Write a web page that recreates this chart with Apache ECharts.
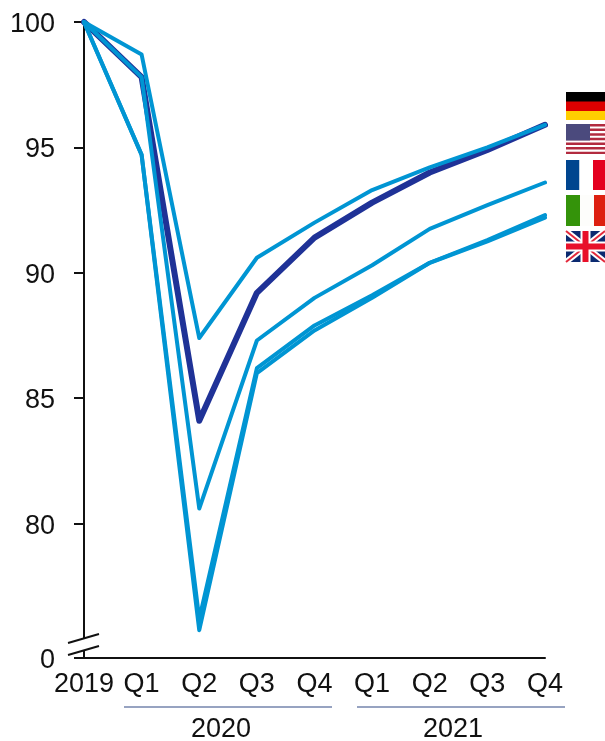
<!DOCTYPE html>
<html><head><meta charset="utf-8">
<style>html,body{margin:0;padding:0;background:#fff}#c{width:605px;height:741px}</style>
<script src="https://cdn.jsdelivr.net/npm/echarts@6/dist/echarts.min.js"></script>
</head><body><div id="c"></div>
<script>
const categories = ['2019','Q1','Q2','Q3','Q4','Q1','Q2','Q3','Q4'];
const germany = [100,97.8,84.1,89.2,91.4,92.8,94.0,94.9,95.9];
const usa     = [100,98.7,87.4,90.6,92.0,93.3,94.2,95.0,95.9];
const france  = [100,97.8,80.6,87.3,89.0,90.3,91.75,92.7,93.6];
const italy   = [100,94.7,76.2,86.2,87.9,89.1,90.4,91.3,92.3];
const uk      = [100,94.7,75.75,86.0,87.7,89.0,90.4,91.25,92.2];
const yFloor = 74.64;            // truncated axis baseline, labelled 0
const yTicks = [yFloor,80,85,90,95,100];
const yearGroups = ['2020','2021'];

const LIGHT='#0095d3', DARK='#1f3297', INK='#111';
const FONT='Liberation Sans';
const chart = echarts.init(document.getElementById('c'),null,{renderer:'canvas'});
const line=(name,data,color,w)=>({name,type:'line',data,symbol:'none',clip:false,animation:false,
  lineStyle:{color,width:w,join:'round',cap:'round'},itemStyle:{color}});

const grid={left:84,right:60,top:22,bottom:83};
const g=[];
// axis break
g.push({type:'polygon',z:20,shape:{points:[[78,640],[90,637],[90,649],[78,652]]},style:{fill:'#fff'}});
[[643,634],[655,646]].forEach(([a,b])=>g.push({type:'line',z:21,shape:{x1:68,y1:a,x2:99,y2:b},style:{stroke:INK,lineWidth:2}}));
// year groups
[[124,332,221],[357,565,453]].forEach(([x1,x2,tx],i)=>{
  g.push({type:'line',z:20,shape:{x1,y1:707,x2,y2:707},style:{stroke:'#7484ad',lineWidth:1.5}});
  g.push({type:'text',z:20,x:tx,y:730,style:{text:yearGroups[i],fill:INK,font:'27px "'+FONT+'"',align:'center',verticalAlign:'middle'}});
});
// flags
const fx=566,fw=39;
const rect=(x,y,w,h,fill)=>g.push({type:'rect',z:22,shape:{x,y,width:w,height:h},style:{fill}});
const ln=(x1,y1,x2,y2,stroke,lineWidth)=>({type:'line',z:23,shape:{x1,y1,x2,y2},style:{stroke,lineWidth}});
rect(fx,92,fw,10,'#000');rect(fx,101.5,fw,9.5,'#dd0000');rect(fx,111,fw,9,'#ffce00');
// USA
rect(fx,124,fw,31,'#fff');
for(let i=0;i<7;i++)rect(fx,124+i*4.62,fw,2.4,'#b22b3f');
rect(fx,124,24,16.5,'#4b4a7d');
// France
rect(fx,160,13.5,30,'#00458f');rect(fx+13.5,160,13.5,30,'#fff');rect(fx+27,160,12,30,'#e4001f');
// Italy
rect(fx,195,14,31,'#34930a');rect(fx+14,195,14,31,'#fdfdfb');rect(fx+28,195,11,31,'#dd2010');
// UK
rect(fx,231,fw,31,'#0b2a70');
g.push(ln(fx,231,fx+fw,262,'#fff',6),ln(fx,262,fx+fw,231,'#fff',6),
  ln(fx,231,fx+fw,262,'#e3283b',2),ln(fx,262,fx+fw,231,'#e3283b',2),
  ln(fx+fw/2,231,fx+fw/2,262,'#fff',10),ln(fx,246.5,fx+fw,246.5,'#fff',10),
  ln(fx+fw/2,231,fx+fw/2,262,'#e8102a',6),ln(fx,246.5,fx+fw,246.5,'#e8102a',6));

chart.setOption({
  animation:false,backgroundColor:'#fff',grid,
  xAxis:{type:'category',data:categories,boundaryGap:false,
    axisLine:{lineStyle:{color:INK,width:2}},axisTick:{show:false},
    axisLabel:{color:INK,fontSize:27,fontFamily:FONT,margin:13,interval:0,hideOverlap:false}},
  yAxis:{type:'value',min:yFloor,max:100,splitLine:{show:false},
    axisLine:{show:true,lineStyle:{color:INK,width:2}},
    axisTick:{show:true,length:10,customValues:yTicks,lineStyle:{color:INK,width:2}},
    axisLabel:{margin:29,customValues:yTicks,showMinLabel:true,showMaxLabel:true,hideOverlap:false,
      rich:{n:{color:INK,fontSize:27,fontFamily:FONT,padding:[5,0,0,0]}},
      formatter:v=>'{n|'+(v===yFloor?'0':v)+'}'}},
  series:[line('Germany',germany,DARK,6),line('USA',usa,LIGHT,4),line('France',france,LIGHT,4),
          line('Italy',italy,LIGHT,4),line('UK',uk,LIGHT,4)],
  graphic:g
});
</script></body></html>
